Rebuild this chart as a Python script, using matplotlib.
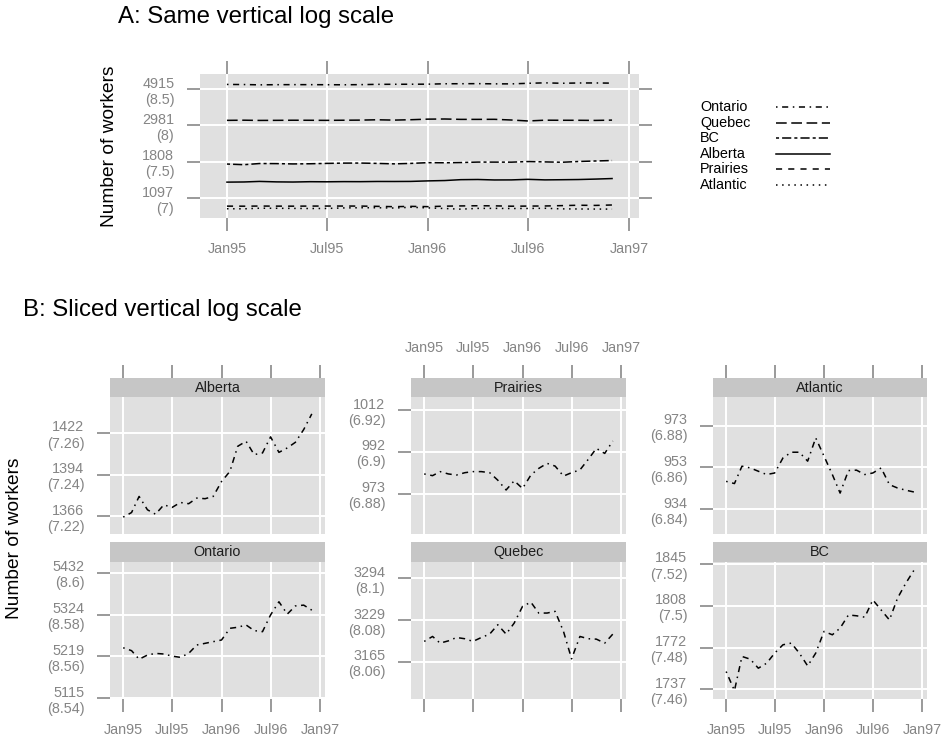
import numpy as np
import pandas as pd
import matplotlib
matplotlib.use('Agg')
import matplotlib.pyplot as plt
import matplotlib.dates as mdates
from matplotlib.lines import Line2D
from matplotlib.ticker import NullLocator

plt.rcParams['font.family'] = ['Liberation Sans', 'DejaVu Sans']

# monthly employment by region, Jan 1995 - Dec 1996
months = pd.date_range('1995-01-01', periods=24, freq='MS')

ontario = [5240.2, 5232.9, 5211.5, 5221.9, 5226.1, 5224.5, 5219.3, 5216.2,
           5226.1, 5247.1, 5251.3, 5255.5, 5259.7, 5289.2, 5291.8, 5297.7,
           5283.4, 5280.7, 5323.2, 5356.8, 5325.3, 5346.1, 5348.2, 5335.4]
quebec = [3196.3, 3203.9, 3193.7, 3197.2, 3202.3, 3200.4, 3196.3, 3202.3,
          3207.5, 3221.9, 3207.5, 3224.5, 3250.4, 3256.9, 3240.0, 3240.0,
          3242.6, 3211.6, 3169.8, 3203.9, 3200.4, 3199.8, 3193.7, 3207.5]
bc = [1752.0, 1736.1, 1764.7, 1762.4, 1754.8, 1759.0, 1767.5, 1774.6,
      1776.0, 1767.5, 1756.7, 1767.5, 1786.0, 1783.1, 1788.8, 1800.1,
      1799.4, 1798.2, 1813.1, 1804.4, 1795.8, 1814.6, 1827.7, 1838.9]
alberta = [1366.0, 1369.0, 1379.6, 1370.8, 1367.9, 1374.1, 1372.3, 1375.6,
           1374.8, 1378.5, 1378.1, 1379.6, 1389.5, 1396.2, 1413.1, 1416.5,
           1407.5, 1408.6, 1419.5, 1409.0, 1412.0, 1415.8, 1424.5, 1435.2]
prairies = [981.8, 981.0, 982.9, 981.8, 981.3, 982.4, 982.9, 982.9,
            982.4, 978.9, 974.3, 978.6, 975.0, 981.3, 984.4, 986.8,
            985.5, 980.8, 982.4, 983.7, 988.7, 993.9, 991.5, 997.4]
atlantic = [947.0, 946.0, 953.9, 953.1, 951.6, 950.1, 950.8, 957.7,
            960.3, 960.3, 956.2, 966.9, 958.5, 950.1, 941.7, 951.9,
            952.1, 950.1, 950.8, 953.1, 945.5, 944.0, 943.0, 942.2]

regions = ['Ontario', 'Quebec', 'BC', 'Alberta', 'Prairies', 'Atlantic']
values = [ontario, quebec, bc, alberta, prairies, atlantic]
series = {name: np.array(v) for name, v in zip(regions, values)}

# R-like line types
ltys = {
    'Ontario': (0, (1, 3, 4, 3)),
    'Quebec': (0, (7, 3)),
    'BC': (0, (2, 2, 6, 2)),
    'Alberta': '-',
    'Prairies': (0, (4, 4)),
    'Atlantic': (0, (1, 3)),
}

# panel order for the sliced plot (row, col)
grid_order = [['Alberta', 'Prairies', 'Atlantic'],
              ['Ontario', 'Quebec', 'BC']]

W, H = 944, 743
PANEL = '#e0e0e0'
STRIP = '#c6c6c6'
TICK = '#7f7f7f'
LABEL = '#858585'
FS = 10.4
TLEN = 9.5

fig = plt.figure(figsize=(W / 100, H / 100), dpi=100)


def box(x0, y0, x1, y1):
    return [x0 / W, 1 - y1 / H, (x1 - x0) / W, (y1 - y0) / H]


pad_t = pd.Timedelta(days=0.07 * (months[-1] - months[0]).days)
xlim = (months[0] - pad_t, months[-1] + pad_t)
xticks = pd.to_datetime(['1995-01-01', '1995-07-01', '1996-01-01',
                         '1996-07-01', '1997-01-01'])


def base_panel(ax):
    ax.set_facecolor(PANEL)
    for s in ax.spines.values():
        s.set_visible(False)
    ax.set_axisbelow(True)
    ax.grid(True, color='white', lw=1.4)
    ax.set_xlim(*xlim)
    ax.set_xticks(xticks)
    ax.xaxis.set_major_formatter(mdates.DateFormatter('%b%y'))
    ax.tick_params(which='both', direction='out', length=TLEN, width=1.1,
                   color=TICK, labelcolor=LABEL, labelsize=FS)
    ax.tick_params(axis='x', pad=8)
    ax.tick_params(axis='y', pad=9)


def log_ticks(ax, lo, hi, step):
    vals = np.round(np.arange(np.ceil(lo / step - 1e-6) * step, hi + 1e-9, step), 2)
    ax.set_yscale('log')
    ax.set_ylim(np.exp(lo), np.exp(hi))
    ax.set_yticks(np.exp(vals))
    ax.set_yticklabels([f'{np.exp(v):.0f}\n({v:g})' for v in vals])
    ax.yaxis.set_minor_locator(NullLocator())


# ---- A: all regions on one log scale
axA = fig.add_axes(box(200, 74, 639, 218))
base_panel(axA)
for name in regions:
    axA.plot(months, series[name], color='black', lw=1.1, linestyle=ltys[name])
all_log = np.log(np.concatenate(values))
rng = all_log.max() - all_log.min()
log_ticks(axA, all_log.min() - 0.07 * rng, all_log.max() + 0.07 * rng, 0.5)
axA.tick_params(top=True, right=True, labeltop=False, labelright=False)

fig.text(118 / W, 1 - 23 / H, 'A: Same vertical log scale', fontsize=17.3,
         ha='left', va='baseline')
fig.text(110 / W, 1 - 146 / H, 'Number of workers', fontsize=13.8,
         rotation=90, ha='center', va='center')

# legend key
for i, name in enumerate(regions):
    yc = 1 - (107 + 15.6 * i) / H
    fig.text(700 / W, yc, name, fontsize=FS, ha='left', va='center')
    fig.add_artist(Line2D([776 / W, 830 / W], [yc, yc], color='black',
                          lw=1.1, linestyle=ltys[name],
                          transform=fig.transFigure))

# ---- B: sliced log scales, same log range per panel
half = max((np.log(v).max() - np.log(v).min()) / 2 for v in values) * 1.14

col_x = [(110, 325), (411, 626), (713, 927)]
row_y = [(397, 534), (562, 699)]
strip_y = [(378, 397), (542, 562)]

for r, row in enumerate(grid_order):
    for c, name in enumerate(row):
        x0, x1 = col_x[c]
        y0, y1 = row_y[r]
        ax = fig.add_axes(box(x0, y0, x1, y1))
        base_panel(ax)
        ax.plot(months, series[name], color='black', lw=1.1,
                linestyle=ltys['Ontario'])
        lv = np.log(series[name])
        mid = (lv.max() + lv.min()) / 2
        log_ticks(ax, mid - half, mid + half, 0.02)
        if r == 1:
            ax.tick_params(axis='x', labelbottom=(c != 1))
        else:
            ax.tick_params(axis='x', length=0, labelbottom=False)

        sy0, sy1 = strip_y[r]
        st = fig.add_axes(box(x0, sy0, x1, sy1))
        st.set_facecolor(STRIP)
        for s in st.spines.values():
            s.set_visible(False)
        st.set_xlim(*xlim)
        st.set_xticks(xticks)
        st.xaxis.set_major_formatter(mdates.DateFormatter('%b%y'))
        st.set_yticks([])
        st.tick_params(axis='x', bottom=False, labelbottom=False,
                       top=(r == 0), labeltop=(r == 0 and c == 1),
                       direction='out', length=TLEN, width=1.1, color=TICK,
                       labelcolor=LABEL, labelsize=FS, pad=7)
        st.text(0.5, 0.5, name, transform=st.transAxes, ha='center',
                va='center', fontsize=FS, color='#1e1e1e')

fig.text(23 / W, 1 - 316 / H, 'B: Sliced vertical log scale', fontsize=17.3,
         ha='left', va='baseline')
fig.text(15 / W, 1 - 538 / H, 'Number of workers', fontsize=13.8,
         rotation=90, ha='center', va='center')

fig.savefig('out.png', dpi=100)
